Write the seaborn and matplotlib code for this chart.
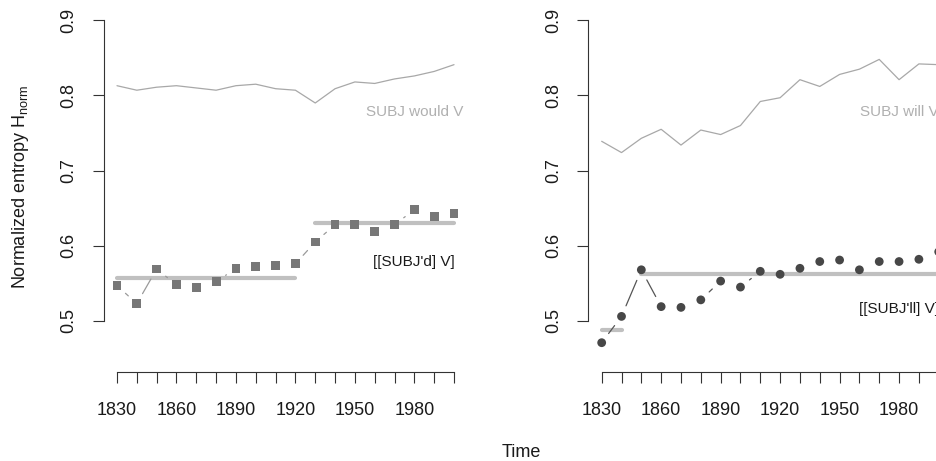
import numpy as np
import pandas as pd
import matplotlib
matplotlib.use("Agg")
import matplotlib.pyplot as plt
import seaborn as sns

# ---- data -------------------------------------------------------------
decades = list(range(1830, 2001, 10))

would_v = [0.813, 0.807, 0.811, 0.813, 0.810, 0.807, 0.813, 0.815, 0.809, 0.807,
           0.790, 0.809, 0.818, 0.816, 0.822, 0.826, 0.832, 0.841]
subj_d_v = [0.547, 0.523, 0.569, 0.548, 0.544, 0.552, 0.570, 0.572, 0.574, 0.576,
            0.605, 0.628, 0.628, 0.619, 0.628, 0.648, 0.639, 0.643]

will_v = [0.739, 0.724, 0.743, 0.755, 0.734, 0.754, 0.748, 0.760, 0.792, 0.797,
          0.821, 0.812, 0.828, 0.835, 0.848, 0.821, 0.842, 0.841]
subj_ll_v = [0.471, 0.506, 0.568, 0.519, 0.518, 0.528, 0.553, 0.545, 0.566, 0.562,
             0.570, 0.579, 0.581, 0.568, 0.579, 0.579, 0.582, 0.592]

# periods (first and last decade) over which the mean level is drawn
d_periods = [(1830, 1920), (1930, 2000)]
ll_periods = [(1830, 1840), (1850, 2000)]

y_ticks = [0.5, 0.6, 0.7, 0.8, 0.9]
x_label_years = [1830, 1860, 1890, 1920, 1950, 1980]

# ---- style ------------------------------------------------------------
sns.set_style("ticks")
plt.rcParams["font.family"] = ["Liberation Sans", "DejaVu Sans"]
plt.rcParams["mathtext.fontset"] = "custom"
plt.rcParams["mathtext.rm"] = "Liberation Sans"

W, H = 936, 461
fig = plt.figure(figsize=(W / 100, H / 100), dpi=100)

AX_W, AX_TOP, AX_BOT = 364.0, 6.8, 372.0


def make_axes(left_px):
    return fig.add_axes([left_px / W, (H - AX_BOT) / H,
                         AX_W / W, (AX_BOT - AX_TOP) / H])


def style_axes(ax):
    ax.set_xlim(1823.2, 2006.8)
    ax.set_ylim(0.432, 0.918)
    for s in ("top", "right"):
        ax.spines[s].set_visible(False)
    for s in ("left", "bottom"):
        ax.spines[s].set_color("#333333")
        ax.spines[s].set_linewidth(0.8)
    ax.spines["left"].set_bounds(0.5, 0.9)
    ax.spines["bottom"].set_bounds(1830, 2000)
    ax.set_xticks(decades)
    ax.set_xticklabels([str(d) if d in x_label_years else "" for d in decades])
    ax.set_yticks(y_ticks)
    ax.set_yticklabels([f"{v:.1f}" for v in y_ticks], rotation=90, va="center")
    ax.tick_params(direction="out", length=8, width=0.8, color="#333333",
                   labelsize=13, labelcolor="#1a1a1a", bottom=True, left=True,
                   top=False, right=False)
    ax.tick_params(axis="x", pad=13.5)
    ax.tick_params(axis="y", pad=11)
    ax.grid(False)


def gapped_lines(ax, x, y, gap_px, **kw):
    """Connect consecutive points, leaving a gap around each point."""
    pts = ax.transData.transform(np.column_stack([x, y]))
    inv = ax.transData.inverted()
    for p0, p1 in zip(pts[:-1], pts[1:]):
        d = p1 - p0
        length = np.hypot(*d)
        if length <= 2 * gap_px:
            continue
        u = d / length
        a = inv.transform(p0 + u * gap_px)
        b = inv.transform(p1 - u * gap_px)
        ax.plot([a[0], b[0]], [a[1], b[1]], **kw)


def period_means(ax, years, vals, periods):
    s = pd.Series(vals, index=years)
    for start, end in periods:
        m = s.loc[start:end].mean()
        ax.plot([start, end], [m, m], color="#c0c0c0", lw=3.0,
                solid_capstyle="round", zorder=2)


def panel(ax, top_vals, top_label, low_vals, marker, mcolor, lcolor, periods):
    style_axes(ax)
    df = pd.DataFrame({"year": decades, "top": top_vals, "low": low_vals})
    sns.lineplot(data=df, x="year", y="top", ax=ax, color="#a8a8a8",
                 lw=0.9, zorder=1)
    period_means(ax, decades, low_vals, periods)
    gapped_lines(ax, decades, low_vals, 11.5, color=lcolor, lw=0.9, zorder=3)
    sns.scatterplot(data=df, x="year", y="low", ax=ax, marker=marker,
                    s=40, color=mcolor, edgecolor="none", linewidth=0,
                    zorder=4, clip_on=False)
    ax.text(1980, 0.778, top_label, color="#b0b0b0", fontsize=11,
            ha="center", va="center")
    ax.set_xlabel("")
    ax.set_ylabel("")


ax1 = make_axes(103.5)
ax2 = make_axes(588.2)

panel(ax1, would_v, "SUBJ would V", subj_d_v, "s", "#777777", "#9a9a9a",
      d_periods)
ax1.text(1980, 0.5786, "[[SUBJ'd] V]", color="#1a1a1a", fontsize=11,
         ha="center", va="center")

panel(ax2, will_v, "SUBJ will V", subj_ll_v, "o", "#474747", "#555555",
      ll_periods)
ax2.text(1980, 0.516, "[[SUBJ'll] V]", color="#1a1a1a", fontsize=11,
         ha="center", va="center")

fig.text(21 / W, (H - 187) / H, r"Normalized entropy H$_{\mathrm{norm}}$",
         rotation=90, ha="center", va="center", fontsize=13, color="#1a1a1a")
fig.text(521 / W, (H - 452) / H, "Time", ha="center", va="center",
         fontsize=13, color="#1a1a1a")

fig.savefig("out.png", dpi=100, facecolor="white")
